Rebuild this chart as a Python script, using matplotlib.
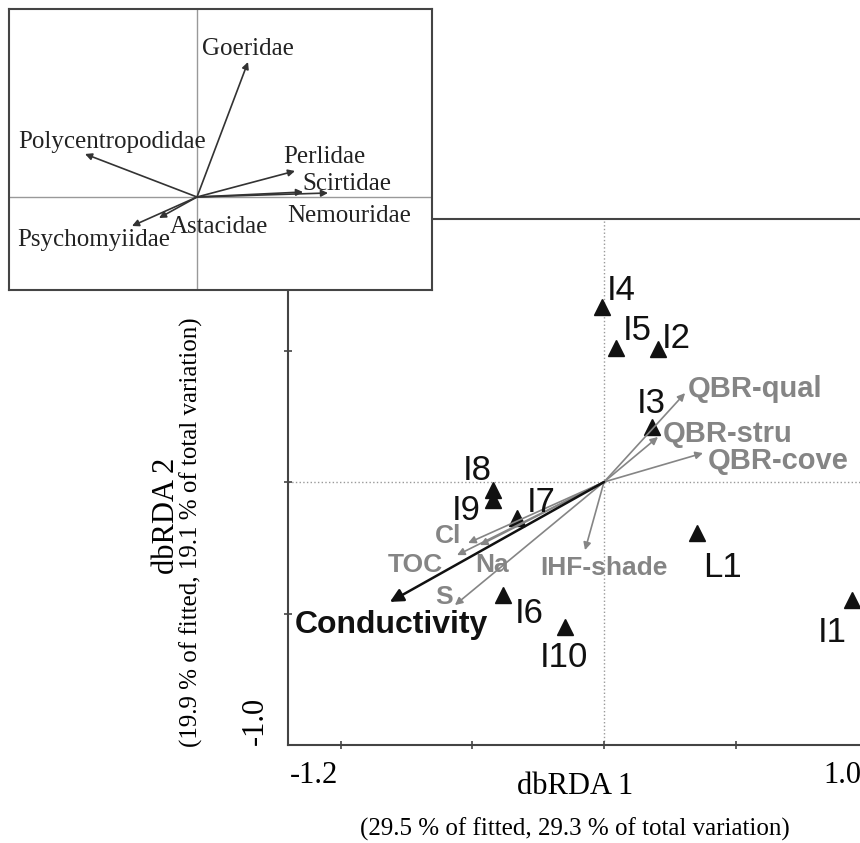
import matplotlib.pyplot as plt

# sites (dbRDA 1, dbRDA 2)
site_names = ["I4", "I5", "I2", "I3", "I8", "I9", "I7", "I6", "I10", "L1", "I1"]
site_x = [-0.008, 0.046, 0.205, 0.182, -0.421, -0.421, -0.330, -0.384, -0.148, 0.353, 0.942]
site_y = [0.665, 0.510, 0.506, 0.209, -0.030, -0.068, -0.137, -0.430, -0.551, -0.194, -0.449]

# environmental vectors
env_names = ["QBR-qual", "QBR-stru", "QBR-cove", "Cl", "TOC", "Na", "S", "IHF-shade"]
env_x = [0.308, 0.205, 0.376, -0.516, -0.558, -0.471, -0.566, -0.072]
env_y = [0.338, 0.171, 0.110, -0.232, -0.278, -0.240, -0.468, -0.259]
cond_x, cond_y = -0.813, -0.456

# taxa vectors (inset)
taxa_names = ["Goeridae", "Polycentropodidae", "Perlidae", "Scirtidae",
              "Nemouridae", "Astacidae", "Psychomyiidae"]
taxa_x = [0.255, -0.56, 0.49, 0.655, 0.53, -0.19, -0.325]
taxa_y = [0.675, 0.215, 0.13, 0.02, 0.025, -0.105, -0.145]

# label offsets in pixels
site_off = [(5, 7), (7, 8), (4, 1), (-15, 14), (-30, 10), (-41, -20), (10, 6),
            (12, -28), (-25, -40), (6, -44), (-34, -42)]
env_off = [(3, -4), (5, -5), (5, -16), (-33, 0), (-69, -17), (-5, -27), (-20, 1), (-45, -25)]
taxa_off = [(-46, 7), (-67, 6), (-12, 8), (-26, 3), (-16, -30), (11, -15), (-115, -20)]

SANS = "Liberation Sans"
SERIF = "Liberation Serif"
GREY = "#858585"

fig = plt.figure(figsize=(8.6, 8.43), dpi=100)
ax = fig.add_axes([288 / 860, 98 / 843, 579.3 / 860, 526 / 843])
ax.set_xlim(-1.2, 1.0)
ax.set_ylim(-1.0, 1.0)
for sp in ax.spines.values():
    sp.set_color("#444444")
    sp.set_linewidth(1.5)
ax.set_xticks([-1.0, -0.5, 0, 0.5])
ax.set_yticks([-0.5, 0, 0.5])
ax.tick_params(direction="inout", length=6, width=1.2, color="#444444",
               labelbottom=False, labelleft=False)
ax.axvline(0, color="#999999", lw=1, ls=":", zorder=0)
ax.axhline(0, color="#999999", lw=1, ls=":", zorder=0)

for n, x, y, off in zip(env_names, env_x, env_y, env_off):
    ax.annotate("", xy=(x, y), xytext=(0, 0),
                arrowprops=dict(arrowstyle="-|>", color=GREY, lw=1.2,
                                mutation_scale=11, shrinkA=0, shrinkB=0))
    fs = 21 if n.startswith("QBR") else 19
    ax.annotate(n, (x, y), xytext=off, textcoords="offset pixels", ha="left",
                va="baseline", fontsize=fs, fontweight="bold", color=GREY, family=SANS)

ax.annotate("", xy=(cond_x, cond_y), xytext=(0, 0),
            arrowprops=dict(arrowstyle="-|>", color="#111111", lw=1.8,
                            mutation_scale=20, shrinkA=0, shrinkB=0))
ax.annotate("Conductivity", (cond_x, cond_y), xytext=(-95, -31), textcoords="offset pixels",
            ha="left", va="baseline", fontsize=23, fontweight="bold", color="#111111", family=SANS)

ax.plot(site_x, site_y, ls="none", marker="^", ms=11, color="#111111")
for n, x, y, off in zip(site_names, site_x, site_y, site_off):
    ax.annotate(n, (x, y), xytext=off, textcoords="offset pixels", ha="left",
                va="baseline", fontsize=25, color="#111111", family=SANS)

# end labels of the axes
ax.annotate("-1.2", (-1.2, -1.0), xytext=(2, -38), textcoords="offset pixels",
            ha="left", va="baseline", fontsize=22, family=SERIF, annotation_clip=False)
ax.annotate("1.0", (1.0, -1.0), xytext=(-44, -38), textcoords="offset pixels",
            ha="left", va="baseline", fontsize=22, family=SERIF, annotation_clip=False)
ax.annotate("-1.0", (-1.2, -1.0), xytext=(-18, 0), textcoords="offset pixels",
            ha="right", va="bottom", rotation=90, fontsize=22, family=SERIF,
            annotation_clip=False)

fig.text(575 / 860, 1 - 786 / 843, "dbRDA 1", ha="center", va="center",
         fontsize=22, family=SERIF)
fig.text(575 / 860, 1 - 829 / 843, "(29.5 % of fitted, 29.3 % of total variation)",
         ha="center", va="center", fontsize=18, family=SERIF)
fig.text(167 / 860, 1 - 516 / 843, "dbRDA 2", ha="center", va="center",
         rotation=90, fontsize=22, family=SERIF)
fig.text(191 / 860, 1 - 532 / 843, "(19.9 % of fitted, 19.1 % of total variation)",
         ha="center", va="center", rotation=90, fontsize=18, family=SERIF)

# inset with taxa vectors
ins = fig.add_axes([9 / 860, 1 - 290 / 843, 423 / 860, 281 / 843], zorder=5)
ins.set_facecolor("white")
ins.set_xlim(-0.94, 1.175)
ins.set_ylim(-0.465, 0.94)
ins.set_xticks([])
ins.set_yticks([])
for sp in ins.spines.values():
    sp.set_color("#444444")
    sp.set_linewidth(1.5)
ins.axvline(0, color="#999999", lw=1)
ins.axhline(0, color="#999999", lw=1)
for n, x, y, off in zip(taxa_names, taxa_x, taxa_y, taxa_off):
    ins.annotate("", xy=(x, y), xytext=(0, 0),
                 arrowprops=dict(arrowstyle="-|>", color="#333333", lw=1.2,
                                 mutation_scale=10, shrinkA=0, shrinkB=0))
    ins.annotate(n, (x, y), xytext=off, textcoords="offset pixels", ha="left",
                 va="baseline", fontsize=18, color="#222222", family=SERIF,
                 annotation_clip=False)

fig.savefig("out.png", dpi=100)
